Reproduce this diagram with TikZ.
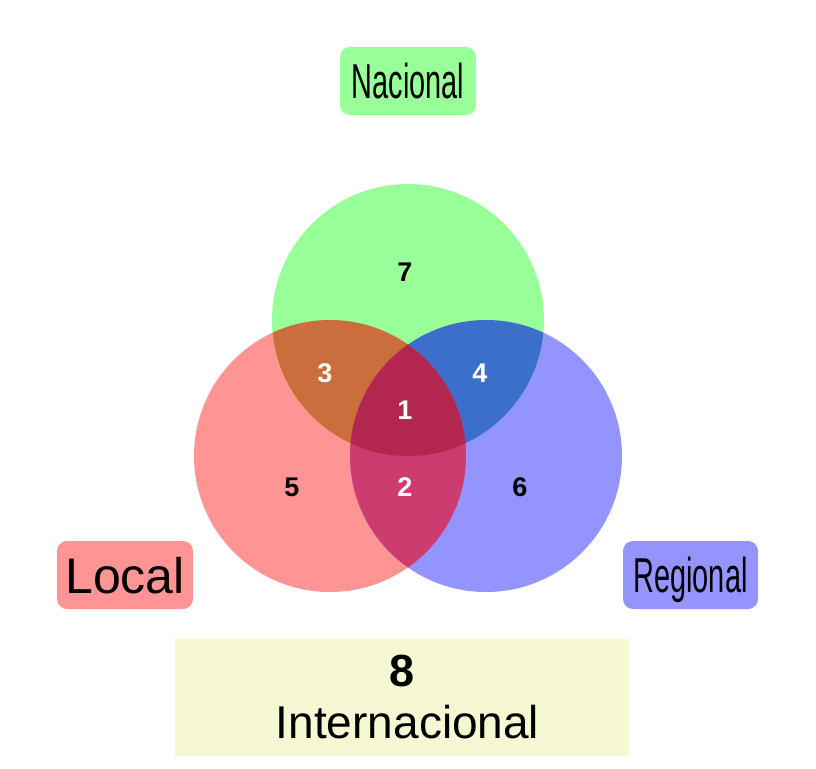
\documentclass[tikz,border=0pt]{standalone}
\usepackage{fontspec}
\setmainfont{Liberation Sans}
\newfontfamily\narrowfont[FakeStretch=0.59]{Liberation Sans}
\usetikzlibrary{positioning}
\definecolor{localred}{RGB}{255,148,148}
\definecolor{regblue}{RGB}{148,148,255}
\definecolor{nacgreen}{RGB}{153,255,153}
\definecolor{redgreen}{RGB}{204,110,60}
\definecolor{greenblue}{RGB}{60,110,204}
\definecolor{redblue}{RGB}{204,60,110}
\definecolor{allthree}{RGB}{178,38,80}
\definecolor{intyellow}{RGB}{246,247,211}

\begin{document}
\begin{tikzpicture}[x=1pt,y=-1pt,
  labelbox/.style={rounded corners=10pt,minimum width=136pt,minimum height=68pt,inner sep=0pt,text depth=0pt},
  count/.style={font=\fontsize{27}{30}\selectfont\bfseries}]
\useasboundingbox (0,0) rectangle (816,768);

% circle centres
\coordinate (cL) at (330,456);
\coordinate (cR) at (486,456);
\coordinate (cN) at (408,320);

% single sets
\fill[localred] (cL) circle (136pt);
\fill[regblue] (cR) circle (136pt);
\fill[nacgreen] (cN) circle (136pt);

% pairs
\begin{scope}
  \clip (cL) circle (136pt);
  \fill[redgreen] (cN) circle (136pt);
\end{scope}
\begin{scope}
  \clip (cR) circle (136pt);
  \fill[greenblue] (cN) circle (136pt);
\end{scope}
\begin{scope}
  \clip (cL) circle (136pt);
  \fill[redblue] (cR) circle (136pt);
\end{scope}

% all three
\begin{scope}
  \clip (cL) circle (136pt);
  \clip (cR) circle (136pt);
  \fill[allthree] (cN) circle (136pt);
\end{scope}

% counts
\node[count] (n7) at (405,272) {7};
\node[count,white] (n3) at (325,373) {3};
\node[count,white] (n4) at (480,373) {4};
\node[count,white] (n1) at (405,410) {1};
\node[count] (n5) at (292,487) {5};
\node[count,white] (n2) at (405,487) {2};
\node[count] (n6) at (520,487) {6};

% set names
\node[labelbox,fill=nacgreen,font=\narrowfont\fontsize{49}{50}\selectfont] (nacional) at (408,81) {Nacional};
\node[labelbox,fill=localred,font=\fontsize{50}{52}\selectfont] (local) at (125,575) {Local};
\node[labelbox,fill=regblue,minimum width=135pt,font=\narrowfont\fontsize{49}{50}\selectfont] (regional) at (690.5,575) {Regional};

% outside all sets
\node[fill=intyellow,minimum width=454pt,minimum height=117pt,inner sep=0pt,align=center,
  font=\fontsize{46}{52}\selectfont] (inter) at (402,697.5)
  {{\fontsize{45}{52}\selectfont\bfseries 8}\\\hspace*{11pt}Internacional};
\end{tikzpicture}
\end{document}
